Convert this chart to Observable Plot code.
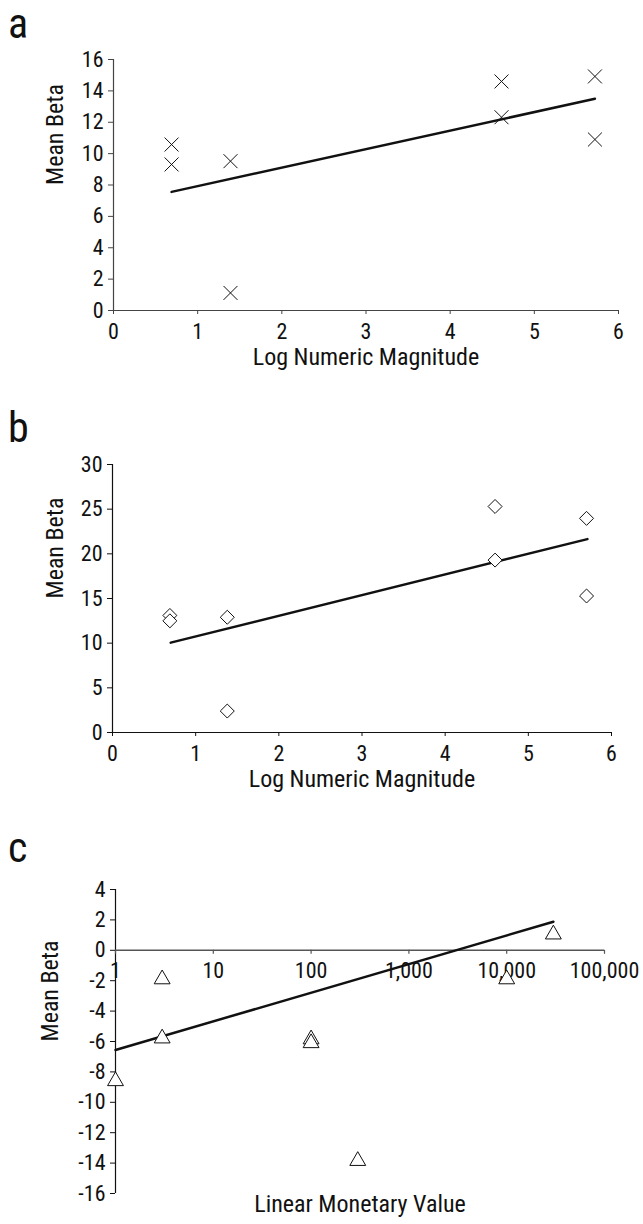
<!DOCTYPE html>
<html><head><meta charset="utf-8">
<script src="https://cdn.jsdelivr.net/npm/d3@7"></script>
<script src="https://cdn.jsdelivr.net/npm/@observablehq/plot@0.6"></script>
<style>
body{margin:0;background:#fff;}
#wrap{position:relative;width:643px;height:1224px;overflow:hidden;font-family:Roboto,"Liberation Sans",sans-serif;font-stretch:75%;}
#wrap svg text{font-stretch:75%;}
.panel{position:absolute;left:0;}
.letter{position:absolute;left:8px;font-size:42px;line-height:1;color:#111;}
</style></head><body><div id="wrap"></div>
<script>
// ---- Panel a : crosses ----
const aX = [0.69, 0.69, 1.39, 1.39, 4.61, 4.61, 5.72, 5.72];
const aY = [10.58, 9.31, 9.52, 1.12, 14.6, 12.32, 14.92, 10.9];
const aFitX = [0.69, 5.72];
const aFitY = [7.56, 13.5];
const aXTicks = [0, 1, 2, 3, 4, 5, 6];
const aYTicks = [0, 2, 4, 6, 8, 10, 12, 14, 16];

// ---- Panel b : diamonds ----
const bX = [0.69, 0.69, 1.38, 1.38, 4.6, 4.6, 5.7, 5.7];
const bY = [13.1, 12.5, 12.9, 2.4, 25.3, 19.3, 23.97, 15.28];
const bFitX = [0.7, 5.71];
const bFitY = [10.06, 21.65];
const bXTicks = [0, 1, 2, 3, 4, 5, 6];
const bYTicks = [0, 5, 10, 15, 20, 25, 30];

// ---- Panel c : triangles ----
const cX = [1, 3, 3, 100, 100, 300, 10000, 30000];
const cY = [-8.45, -1.75, -5.64, -5.7, -5.95, -13.7, -1.75, 1.2];
const cFitX = [1, 30000];
const cFitY = [-6.56, 1.88];
const cXTicks = [1, 10, 100, 1000, 10000, 100000];
const cXTickLabels = ["1", "10", "100", "1,000", "10,000", "100,000"];
const cYTicks = [-16, -14, -12, -10, -8, -6, -4, -2, 0, 2, 4];

const xLabelAB = "Log Numeric Magnitude";
const xLabelC = "Linear Monetary Value";
const yLabel = "Mean Beta";
const letters = ["a", "b", "c"];

const FONT = 'Roboto,"Liberation Sans",sans-serif';
const style = {fontFamily: FONT, fontSize: "22px", color: "#111", background: "transparent", overflow: "visible"};
const wrap = document.getElementById("wrap");
const intFmt = d => String(d);
const TITLE = 24;

function place(svg, top) {
  const d = document.createElement("div");
  d.className = "panel";
  d.style.top = top + "px";
  d.appendChild(svg);
  wrap.appendChild(d);
}
function letter(t, top) {
  const d = document.createElement("div");
  d.className = "letter";
  d.style.top = top + "px";
  d.textContent = t;
  wrap.appendChild(d);
}
const pts = (X, Y) => X.map((x, i) => ({x, y: Y[i]}));

// Panel a
place(Plot.plot({
  width: 643, height: 380,
  marginTop: 59, marginBottom: 70, marginLeft: 113, marginRight: 25,
  style,
  x: {domain: [0, 6]},
  y: {domain: [0, 16]},
  marks: [
    Plot.ruleX([0], {stroke: "#444", strokeWidth: 1.2}),
    Plot.ruleY([0], {stroke: "#444", strokeWidth: 1.2}),
    Plot.axisX({ticks: aXTicks, tickFormat: intFmt, tickSize: 4, tickPadding: 9, label: null, stroke: "#444"}),
    Plot.axisY({ticks: aYTicks, tickFormat: intFmt, tickSize: 5, tickPadding: 5, label: null, stroke: "#444"}),
    Plot.line(pts(aFitX, aFitY), {x: "x", y: "y", stroke: "#111", strokeWidth: 2.5}),
    Plot.dot(pts(aX, aY), {x: "x", y: "y", symbol: "times", r: 6.4, stroke: "#111", strokeWidth: 1}),
    Plot.text([xLabelAB], {frameAnchor: "bottom", dy: 54, text: d => d, fontSize: TITLE, fill: "#111"}),
    Plot.text([yLabel], {frameAnchor: "left", dx: -58, rotate: -90, text: d => d, fontSize: TITLE, fill: "#111"})
  ]
}), 0);
letter(letters[0], 3);

// Panel b
place(Plot.plot({
  width: 643, height: 400,
  marginTop: 74, marginBottom: 58, marginLeft: 112, marginRight: 32,
  style,
  x: {domain: [0, 6]},
  y: {domain: [0, 30]},
  marks: [
    Plot.ruleX([0], {stroke: "#111", strokeWidth: 1.2}),
    Plot.ruleY([0], {stroke: "#111", strokeWidth: 1.2}),
    Plot.axisX({ticks: bXTicks, tickFormat: intFmt, tickSize: 4, tickPadding: 9, label: null, stroke: "#111"}),
    Plot.axisY({ticks: bYTicks, tickFormat: intFmt, tickSize: 5, tickPadding: 5, label: null, stroke: "#111"}),
    Plot.line(pts(bFitX, bFitY), {x: "x", y: "y", stroke: "#111", strokeWidth: 2.5}),
    Plot.dot(pts(bX, bY), {x: "x", y: "y", symbol: "diamond2", r: 6.3, stroke: "#111", fill: "white", strokeWidth: 1}),
    Plot.text([xLabelAB], {frameAnchor: "bottom", dy: 54, text: d => d, fontSize: TITLE, fill: "#111"}),
    Plot.text([yLabel], {frameAnchor: "left", dx: -57, rotate: -90, text: d => d, fontSize: TITLE, fill: "#111"})
  ]
}), 390);
letter(letters[1], 407);

// Panel c
const cPxPerUnit = (1193 - 889) / 20;
place(Plot.plot({
  width: 643, height: 424,
  marginTop: 89, marginBottom: 31, marginLeft: 115, marginRight: 39,
  style,
  x: {type: "log", domain: [1, 100000], axis: null},
  y: {domain: [-16, 4]},
  marks: [
    Plot.ruleX([1], {stroke: "#111", strokeWidth: 1.2}),
    Plot.ruleY([0], {stroke: "#555", strokeWidth: 1.4}),
    Plot.ruleX(cXTicks, {x: d => d, y1: 0, y2: -4 / cPxPerUnit, stroke: "#555", strokeWidth: 1.2}),
    Plot.text(cXTicks, {x: d => d, y: 0, dy: 21, text: (d, i) => cXTickLabels[i], fill: "#111"}),
    Plot.axisY({ticks: cYTicks, tickFormat: intFmt, tickSize: 5, tickPadding: 5, label: null, stroke: "#111"}),
    Plot.line(pts(cFitX, cFitY), {x: "x", y: "y", stroke: "#111", strokeWidth: 2.5}),
    Plot.dot(pts(cX, cY), {x: "x", y: "y", symbol: "triangle", r: 5.9, dy: 2.3, stroke: "#111", fill: "white", strokeWidth: 1}),
    Plot.text([xLabelC], {frameAnchor: "bottom", dy: 18, text: d => d, fontSize: TITLE, fill: "#111"}),
    Plot.text([yLabel], {frameAnchor: "left", dx: -65, rotate: -90, text: d => d, fontSize: TITLE, fill: "#111"})
  ]
}), 800);
letter(letters[2], 827);
</script></body></html>
